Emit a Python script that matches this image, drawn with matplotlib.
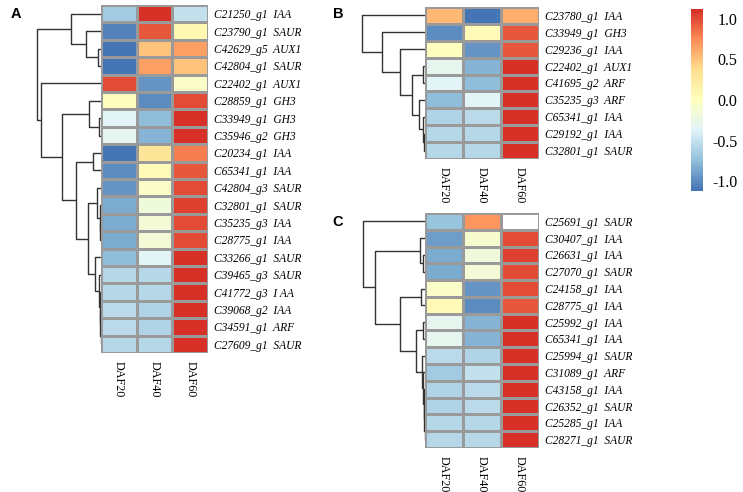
import numpy as np
import matplotlib
matplotlib.use('Agg')
import matplotlib.pyplot as plt
from matplotlib.colors import LinearSegmentedColormap, Normalize
from matplotlib.cm import ScalarMappable

plt.rcParams['font.family'] = ['Liberation Serif', 'DejaVu Serif']

stages = ['DAF20', 'DAF40', 'DAF60']

# panel A
genes_a = ['C21250_g1  IAA', 'C23790_g1  SAUR', 'C42629_g5  AUX1', 'C42804_g1  SAUR',
           'C22402_g1  AUX1', 'C28859_g1  GH3', 'C33949_g1  GH3', 'C35946_g2  GH3',
           'C20234_g1  IAA', 'C65341_g1  IAA', 'C42804_g3  SAUR', 'C32801_g1  SAUR',
           'C35235_g3  IAA', 'C28775_g1  IAA', 'C33266_g1  SAUR', 'C39465_g3  SAUR',
           'C41772_g3  I AA', 'C39068_g2  IAA', 'C34591_g1  ARF', 'C27609_g1  SAUR']
daf20_a = [-0.65, -1.05, -1.15, -1.15, 1.0, 0.0, -0.35, -0.3, -1.1, -1.0,
           -0.95, -0.85, -0.85, -0.85, -0.75, -0.58, -0.58, -0.55, -0.55, -0.57]
daf40_a = [1.15, 0.95, 0.5, 0.65, -0.95, -1.0, -0.75, -0.8, 0.3, 0.05,
           -0.05, -0.2, -0.15, -0.15, -0.35, -0.57, -0.57, -0.6, -0.6, -0.58]
daf60_a = [-0.5, 0.1, 0.65, 0.5, -0.05, 1.0, 1.1, 1.1, 0.8, 0.95,
           1.0, 1.05, 1.0, 1.0, 1.1, 1.15, 1.15, 1.15, 1.15, 1.15]
links_a = [(2, 3, 3), (1, 20, 15), (0, 21, 30), (6, 7, 1.7), (5, 23, 12),
           (8, 9, 7.7), (12, 13, 0.7), (11, 26, 1.5), (10, 27, 4), (18, 19, 0.5),
           (17, 29, 0.8), (16, 30, 1.1), (15, 31, 1.8), (14, 32, 6), (28, 33, 13),
           (25, 34, 25), (24, 35, 38.7), (4, 36, 60), (22, 37, 64.3)]

# panel B
genes_b = ['C23780_g1  IAA', 'C33949_g1  GH3', 'C29236_g1  IAA', 'C22402_g1  AUX1',
           'C41695_g2  ARF', 'C35235_g3  ARF', 'C65341_g1  IAA', 'C29192_g1  IAA',
           'C32801_g1  SAUR']
daf20_b = [0.55, -1.0, 0.0, -0.3, -0.35, -0.75, -0.6, -0.57, -0.57]
daf40_b = [-1.15, 0.05, -0.95, -0.8, -0.75, -0.35, -0.55, -0.58, -0.58]
daf60_b = [0.6, 0.95, 0.95, 1.1, 1.1, 1.1, 1.15, 1.15, 1.15]
links_b = [(7, 8, 1), (6, 9, 2.3), (5, 10, 5.7), (3, 4, 2.5), (12, 11, 13.3),
           (2, 13, 25), (1, 14, 43.3), (0, 15, 63.3)]

# panel C
genes_c = ['C25691_g1  SAUR', 'C30407_g1  IAA', 'C26631_g1  IAA', 'C27070_g1  SAUR',
           'C24158_g1  IAA', 'C28775_g1  IAA', 'C25992_g1  IAA', 'C65341_g1  IAA',
           'C25994_g1  SAUR', 'C31089_g1  ARF', 'C43158_g1  IAA', 'C26352_g1  SAUR',
           'C25285_g1  IAA', 'C28271_g1  SAUR']
daf20_c = [-0.71, -0.9, -0.85, -0.85, -0.05, 0.05, -0.3, -0.3, -0.55, -0.65,
           -0.6, -0.6, -0.58, -0.58]
daf40_c = [0.71, -0.1, -0.2, -0.15, -0.95, -1.0, -0.8, -0.8, -0.6, -0.5,
           -0.55, -0.55, -0.57, -0.57]
daf60_c = [np.nan, 1.0, 1.05, 1.0, 1.0, 0.95, 1.1, 1.1, 1.15, 1.15,
           1.15, 1.15, 1.15, 1.15]
links_c = [(2, 3, 1.7), (1, 14, 5), (4, 5, 4), (6, 7, 1.7), (12, 13, 0.5),
           (11, 18, 0.9), (10, 19, 1.4), (9, 20, 2.0), (8, 21, 3.5), (17, 22, 9.3),
           (16, 23, 25), (15, 24, 50), (0, 25, 62)]

W, H = 743, 492
fig = plt.figure(figsize=(W / 100, H / 100), dpi=100)


def px_axes(left, top, width, height):
    return fig.add_axes([left / W, 1 - (top + height) / H, width / W, height / H])


cmap = LinearSegmentedColormap.from_list(
    'pheat', ['#4575B4', '#91BFDB', '#E0F3F8', '#FFFFBF', '#FEE090', '#FC8D59', '#D73027'], N=100)
cmap.set_bad('white')
norm = Normalize(-1.12, 1.12)


def draw_dendro(ax, links, n, width):
    pos = {i: i + 0.5 for i in range(n)}
    hgt = {i: 0.0 for i in range(n)}
    for k, (a, b, h) in enumerate(links):
        ax.plot([hgt[a], h, h, hgt[b]], [pos[a], pos[a], pos[b], pos[b]],
                color='#333333', lw=1.0, solid_capstyle='butt')
        pos[n + k] = (pos[a] + pos[b]) / 2
        hgt[n + k] = h
    ax.set_xlim(width, 0)
    ax.set_ylim(n, 0)
    ax.axis('off')


def draw_heat(ax, genes, c1, c2, c3):
    vals = np.ma.masked_invalid(np.column_stack([c1, c2, c3]))
    n = len(genes)
    ax.pcolormesh(vals, cmap=cmap, norm=norm, edgecolors='#9a9a9a', linewidth=0.9)
    ax.set_xlim(0, 3)
    ax.set_ylim(n, 0)
    for s in ax.spines.values():
        s.set_visible(False)
    ax.yaxis.tick_right()
    ax.set_yticks(np.arange(n) + 0.5)
    ax.set_yticklabels(genes, fontstyle='italic', fontsize=8.3)
    ax.set_xticks(np.arange(3) + 0.5)
    ax.set_xticklabels(stages, rotation=270, fontsize=8.7, va='top', ha='center')
    ax.tick_params(length=0, pad=4)
    ax.tick_params(axis='x', pad=6)


heat_a = px_axes(101, 5, 107, 348)
draw_heat(heat_a, genes_a, daf20_a, daf40_a, daf60_a)
draw_dendro(px_axes(31, 5, 70, 348), links_a, len(genes_a), 70)

heat_b = px_axes(425, 7, 114, 152)
draw_heat(heat_b, genes_b, daf20_b, daf40_b, daf60_b)
draw_dendro(px_axes(355, 7, 70, 152), links_b, len(genes_b), 70)

heat_c = px_axes(425, 213, 114, 235)
draw_heat(heat_c, genes_c, daf20_c, daf40_c, daf60_c)
draw_dendro(px_axes(355, 213, 70, 235), links_c, len(genes_c), 70)

cax = px_axes(691, 9, 12, 182)
cb = fig.colorbar(ScalarMappable(norm=norm, cmap=cmap), cax=cax)
cb.outline.set_visible(False)
cb.set_ticks([-1, -0.5, 0, 0.5, 1])
cb.set_ticklabels(['-1.0', '-0.5', '0.0', '0.5', '1.0'])
cax.tick_params(length=0, pad=25, labelsize=11.5)
for t in cax.get_yticklabels():
    t.set_ha('right')

for letter, x, y in [('A', 16, 14), ('B', 338, 14), ('C', 338, 222)]:
    fig.text(x / W, 1 - y / H, letter, family='Liberation Sans', fontweight='bold',
             fontsize=10.5, ha='center', va='center')

fig.savefig('out.png', dpi=100)
